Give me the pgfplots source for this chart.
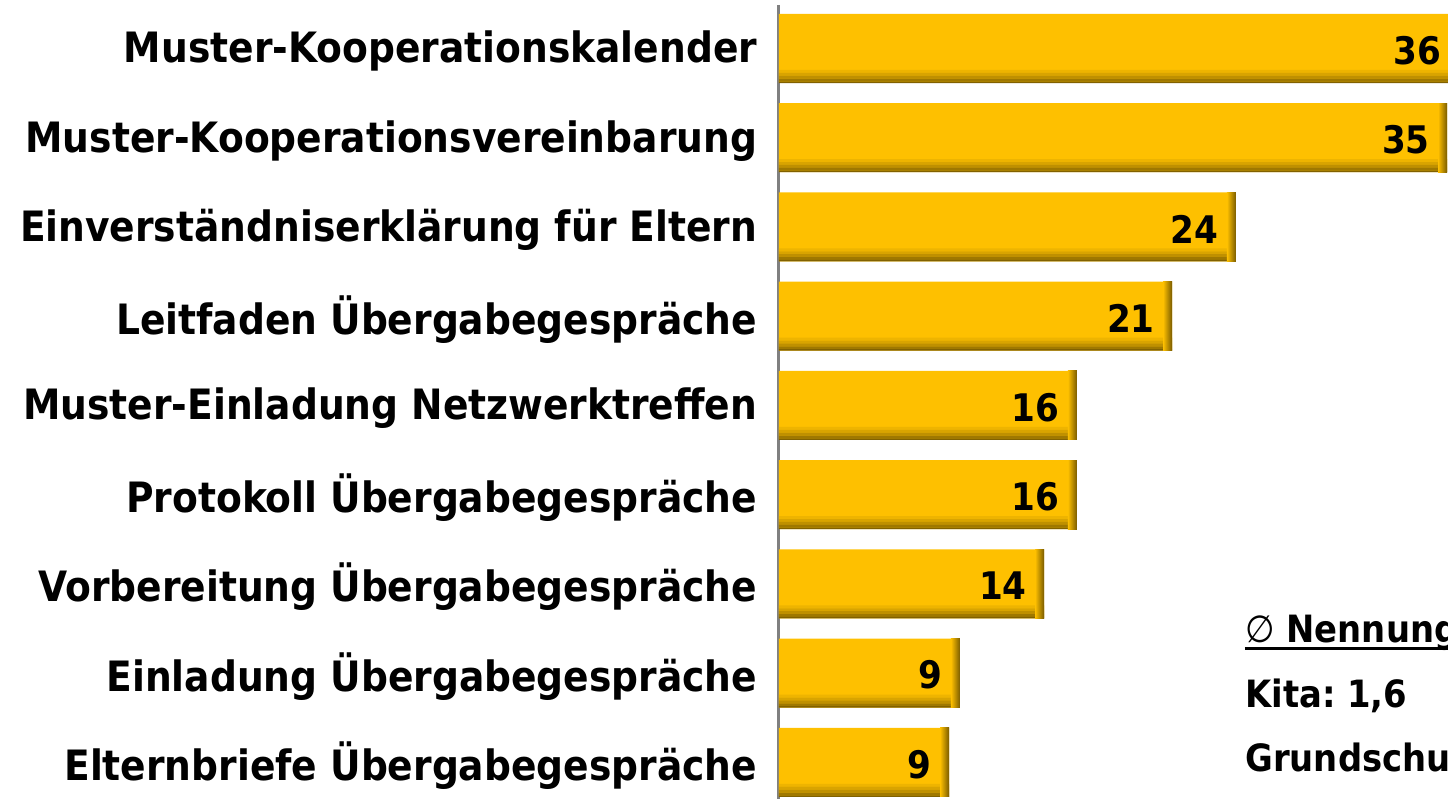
\documentclass[border=0pt]{standalone}
\usepackage{fontspec}
\setmainfont{DejaVu Sans Condensed}
\usepackage{pgfplots}
\pgfplotsset{compat=1.18}
\usepackage{pgfplotstable}
\definecolor{gold}{RGB}{254,192,0}
\definecolor{golddark}{RGB}{122,92,0}
\definecolor{axgray}{RGB}{128,128,128}
\frenchspacing

\pgfplotstableread[col sep=comma]{
pos,value,label
0,36.07,36
1,35.44,35
2,24.24,24
3,20.85,21
4,15.80,16
5,15.80,16
6,14.06,14
7,9.60,9
8,9.02,9
}\datatable

\pgfdeclareplotmark{redge}{%
  \shade[left color=gold, right color=golddark, draw=none] (-4.5pt,-17.25pt) rectangle (0pt,17.25pt);%
}
\pgfplotsset{strip/.style={forget plot, xbar, bar width=1.45pt, draw=none, fill=#1}}

\begin{document}
\begin{tikzpicture}
\begin{axis}[
  name=ax,
  scale only axis,
  width=334.5pt, height=397pt,
  xbar,
  bar width=34.5pt,
  xmin=0, xmax=35.49,
  ymin=-0.487, ymax=8.41,
  y dir=reverse,
  axis x line=none,
  axis y line=left,
  y axis line style={-, draw=axgray, line width=1.5pt},
  ytick={0,1,2,3,4,5,6,7,8},
  yticklabels={Muster-Kooperationskalender,Muster-Kooperationsvereinbarung,Einverständniserklärung für Eltern,Leitfaden Übergabegespräche,Muster-Einladung Netzwerktreffen,Protokoll Übergabegespräche,Vorbereitung Übergabegespräche,Einladung Übergabegespräche,Elternbriefe Übergabegespräche},
  major tick length=0pt,
  yticklabel style={font=\bfseries\fontsize{20.9}{25}\selectfont, anchor=east, inner sep=0pt, xshift=-10.75pt, yshift=-1.5pt},
  clip=false,
]
\addplot[fill=gold, draw=none,
  nodes near coords, point meta=explicit symbolic,
  every node near coord/.append style={font=\bfseries\fontsize{19}{22}\selectfont, anchor=east, inner sep=0pt, xshift=-8.5pt, yshift=-1pt, text=black}]
  table[x=value, y=pos, meta=label]{\datatable};
\addplot[strip=golddark!12!gold, bar shift=-11.45pt] table[x=value, y=pos]{\datatable};
\addplot[strip=golddark!28!gold, bar shift=-12.9pt] table[x=value, y=pos]{\datatable};
\addplot[strip=golddark!48!gold, bar shift=-14.35pt] table[x=value, y=pos]{\datatable};
\addplot[strip=golddark!72!gold, bar shift=-15.8pt] table[x=value, y=pos]{\datatable};
\addplot[strip=golddark!95!gold, bar shift=-16.9pt, bar width=0.75pt] table[x=value, y=pos]{\datatable};
\addplot[forget plot, only marks, mark=redge, draw=none] table[x=value, y=pos]{\datatable};
\end{axis}
\node[anchor=base west, inner sep=0pt, font=\bfseries\fontsize{18.8}{22}\selectfont] (nn) at ([xshift=233pt, yshift=78pt]ax.south west) {{\mdseries ∅} Nennungen};
\draw[line width=1.5pt] ([yshift=-3pt]nn.base west) -- ([yshift=-3pt]nn.base east);
\node[anchor=base west, inner sep=0pt, font=\bfseries\fontsize{18.8}{22}\selectfont] at ([xshift=233pt, yshift=45.5pt]ax.south west) {Kita: 1,6};
\node[anchor=base west, inner sep=0pt, font=\bfseries\fontsize{18.8}{22}\selectfont] at ([xshift=233pt, yshift=13.5pt]ax.south west) {Grundschule};
\pgfresetboundingbox
\path[use as bounding box] ([xshift=-389.5pt]ax.south west) rectangle ([yshift=2.5pt]ax.north east);
\end{tikzpicture}
\end{document}
